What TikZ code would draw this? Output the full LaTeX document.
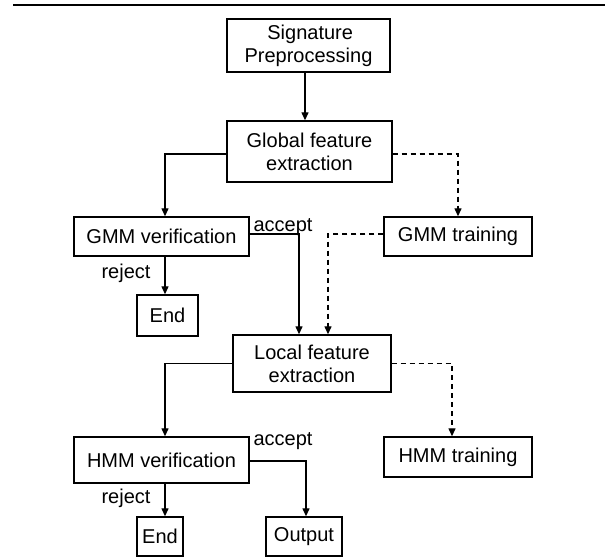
\documentclass[tikz,border=0pt]{standalone}
\usepackage{fontspec}
\setmainfont{Liberation Sans}
\usetikzlibrary{arrows.meta}
\begin{document}
\begin{tikzpicture}[x=1pt,y=-1pt,
  font=\fontsize{20}{23}\selectfont,
  box/.style={draw,line width=1.4pt,inner sep=0pt,align=center},
  arr/.style={line width=1.3pt,-{Triangle[length=8pt,width=7pt]}},
  darr/.style={arr,dash pattern=on 5pt off 4pt},
  lbl/.style={inner sep=0pt}]
\useasboundingbox (0,0) rectangle (605,557);
\draw[line width=2.6pt] (13,5) -- (605,5);
\node[box,minimum width=163,minimum height=53] (sig) at (308.5,45.5) {\,Signature\\Preprocessing};
\node[box,minimum width=165,minimum height=61] (glob) at (309.5,151.5) {Global feature\\extraction};
\node[box,minimum width=175,minimum height=39] (gmmv) at (161.5,236.5) {GMM verification};
\node[box,minimum width=61,minimum height=41] (end1) at (167.5,315.5) {End};
\node[box,minimum width=148,minimum height=39] (gmmt) at (458,236.5) {GMM training};
\node[box,minimum width=158,minimum height=57] (loc) at (312,363.5) {Local feature\\extraction};
\node[box,minimum width=175,minimum height=46] (hmmv) at (161.5,460) {HMM verification};
\node[box,minimum width=148,minimum height=40] (hmmt) at (458,457) {HMM training};
\node[box,minimum width=46,minimum height=39] (end2) at (160,536.5) {End};
\node[box,minimum width=76,minimum height=39] (out) at (304,536.5) {Output};
\node[lbl] (acc1) at (283,227) {accept};
\node[lbl] (rej1) at (126,273) {reject};
\node[lbl] (acc2) at (283,441) {accept};
\node[lbl] (rej2) at (126,498) {reject};
\draw[arr] ([xshift=-3.5]sig.south) -- ([xshift=-3.5]sig.south |- glob.north);
\draw[arr] ([yshift=-2.5]glob.west) -| ([xshift=3.5]gmmv.north);
\draw[darr] ([yshift=-2.5]glob.east) -| (gmmt.north);
\draw[arr] ([xshift=3.5]gmmv.south) -- ([xshift=3.5]gmmv.south |- end1.north);
\draw[arr] ([yshift=2.5]gmmv.east) -| ([xshift=-13]loc.north);
\draw[darr] ([yshift=2.5]gmmt.west) -| ([xshift=16]loc.north);
\draw[arr] (loc.west) -| ([xshift=3.5]hmmv.north);
\draw[darr] (loc.east) -| ([xshift=-6]hmmt.north);
\draw[arr] ([xshift=3.5]hmmv.south) -- ([xshift=3.5]hmmv.south |- end2.north);
\draw[arr] ([yshift=-1]hmmv.east) -| ([xshift=2]out.north);
\end{tikzpicture}
\end{document}
